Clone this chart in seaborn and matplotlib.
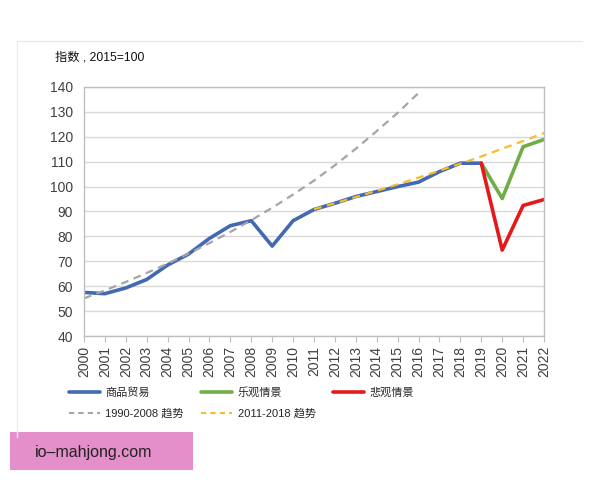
"""Merchandise trade volume index with optimistic / pessimistic scenarios."""

import numpy as np
import pandas as pd
import seaborn as sns
import matplotlib.pyplot as plt
from matplotlib.patches import Rectangle
from matplotlib.lines import Line2D

# --- data (index, 2015 = 100) ---
trade_years = list(range(2000, 2020))
trade_vals = [57.5, 57.0, 59.3, 62.7, 68.5, 72.9, 79.2, 84.3, 86.3, 76.1,
              86.3, 90.8, 93.3, 96.0, 98.0, 100.0, 101.8, 106.0, 109.4, 109.4]

scen_years = [2019, 2020, 2021, 2022]
optimistic_vals = [109.4, 95.2, 116.0, 118.9]
pessimistic_vals = [109.4, 74.5, 92.4, 94.8]

trend_old_years = list(range(2000, 2017))
trend_old_vals = [55.1, 58.3, 61.7, 65.3, 69.1, 73.1, 77.3, 81.8, 86.5, 91.5,
                  96.8, 102.4, 108.6, 115.2, 122.3, 129.6, 137.6]

trend_new_years = list(range(2011, 2023))
trend_new_vals = [90.9, 93.3, 95.8, 98.3, 100.9, 103.6, 106.4, 109.2, 112.1,
                  115.2, 118.3, 121.5]

labels = ['商品贸易', '1990-2008 趋势', '乐观情景', '2011-2018 趋势', '悲观情景']
colors = {'商品贸易': '#4269B2', '乐观情景': '#70AD47', '悲观情景': '#E31A1C',
          '1990-2008 趋势': '#A5A5A5', '2011-2018 趋势': '#F5BD2A'}

frames = [
    pd.DataFrame({'year': trade_years, 'value': trade_vals, 'series': '商品贸易'}),
    pd.DataFrame({'year': scen_years, 'value': optimistic_vals, 'series': '乐观情景'}),
    pd.DataFrame({'year': scen_years, 'value': pessimistic_vals, 'series': '悲观情景'}),
    pd.DataFrame({'year': trend_old_years, 'value': trend_old_vals, 'series': '1990-2008 趋势'}),
    pd.DataFrame({'year': trend_new_years, 'value': trend_new_vals, 'series': '2011-2018 趋势'}),
]

sns.set_theme(style='white')
plt.rcParams['font.family'] = ['Liberation Sans', 'Noto Sans CJK SC', 'DejaVu Sans']

fig = plt.figure(figsize=(6, 4.8), dpi=100)
ax = fig.add_axes([0.14, 0.30, 0.7667, 0.5188])

# solid series first, dashed trends drawn on top
for df in frames[:3]:
    sns.lineplot(data=df, x='year', y='value', color=colors[df['series'][0]],
                 linewidth=2.6, ax=ax, legend=False)
for df in frames[3:]:
    sns.lineplot(data=df, x='year', y='value', color=colors[df['series'][0]],
                 linewidth=1.6, linestyle=(0, (3.5, 2.5)), ax=ax, legend=False)

ax.set_xlim(2000, 2022)
ax.set_ylim(40, 140)
ax.set_yticks(np.arange(40, 141, 10))
ax.set_xticks(range(2000, 2023))
ax.set_xticklabels([str(y) for y in range(2000, 2023)], rotation=90)
ax.tick_params(axis='both', labelsize=10, colors='#404040')
ax.tick_params(axis='x', length=4, width=0.8, color='#bfbfbf', bottom=True, pad=3)
ax.tick_params(axis='y', length=0, pad=8)
ax.set_xlabel('')
ax.set_ylabel('')
ax.grid(axis='y', color='#d9d9d9', linewidth=1)
ax.set_axisbelow(True)
for side in ['left', 'right', 'top', 'bottom']:
    ax.spines[side].set_visible(True)
    ax.spines[side].set_color('#bfbfbf')
    ax.spines[side].set_linewidth(1)

fig.text(0.092, 0.873, '指数 , 2015=100', fontsize=8.8, color='#111111')

handles = []
for lab in labels:
    dashed = '趋势' in lab
    handles.append(Line2D([], [], color=colors[lab],
                          linewidth=1.5 if dashed else 2.6,
                          linestyle=(0, (2.5, 2)) if dashed else '-'))
fig.legend(handles, labels, ncol=3, loc='upper left',
           bbox_to_anchor=(0.098, 0.215), frameon=False, fontsize=8,
           handlelength=2.8, columnspacing=1.55, labelspacing=1.0,
           handletextpad=0.5)

# light chart-area frame (top and left edges)
fig.add_artist(Line2D([0.028, 0.97], [0.915, 0.915], color='#ebebeb',
                      linewidth=1, transform=fig.transFigure))
fig.add_artist(Line2D([0.028, 0.028], [0.915, 0.09], color='#ebebeb',
                      linewidth=1, transform=fig.transFigure))

# watermark box
fig.add_artist(Rectangle((0.017, 0.021), 0.305, 0.079, transform=fig.transFigure,
                         facecolor='#E48FC9', edgecolor='none'))
fig.text(0.058, 0.058, 'io\u2013mahjong.com', fontsize=11.5, color='#222222',
         va='center')

fig.savefig('out.png', dpi=100)
